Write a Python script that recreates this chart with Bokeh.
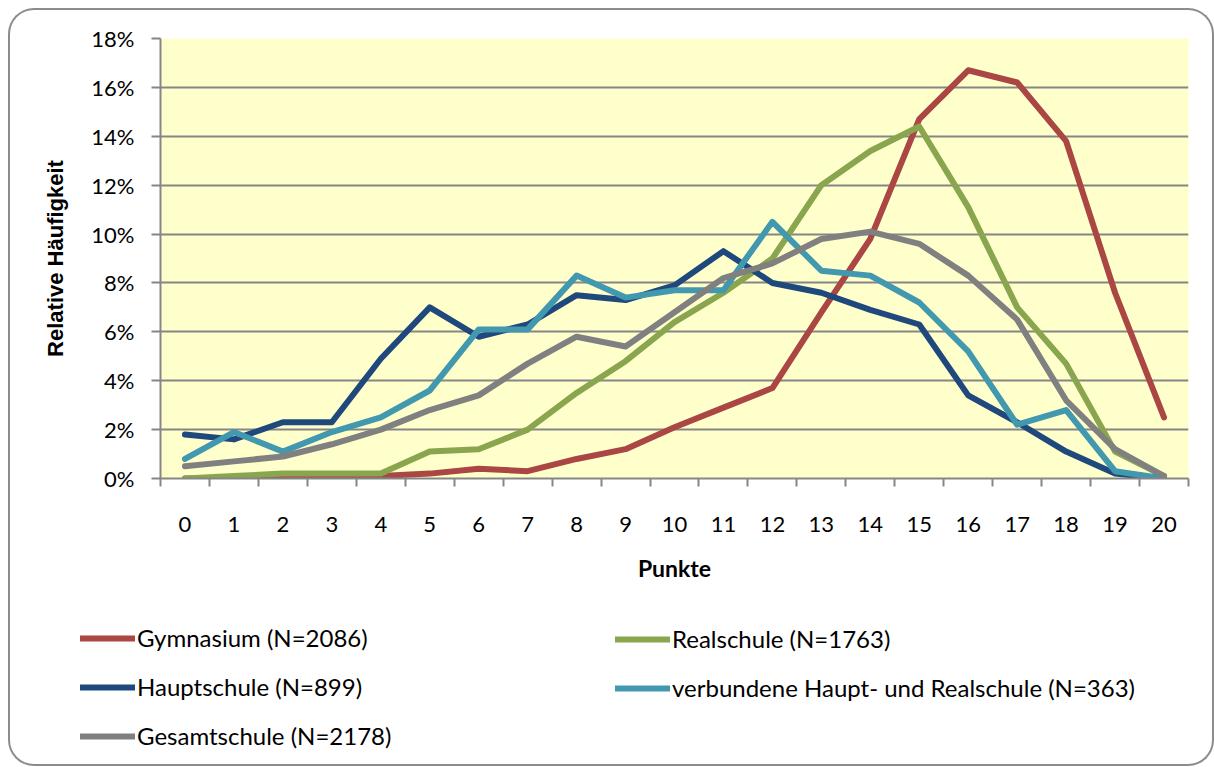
from bokeh.plotting import figure
from bokeh.models import (Range1d, FixedTicker, NumeralTickFormatter, Legend, LegendItem,
                          InlineStyleSheet)
from bokeh.embed import file_html
from bokeh.resources import INLINE

# ---- data (relative frequencies) ----
punkte = list(range(21))
y_ticks = [0.0, 0.02, 0.04, 0.06, 0.08, 0.10, 0.12, 0.14, 0.16, 0.18]

gymnasium = [0.000, 0.000, 0.000, 0.0005, 0.001, 0.002, 0.004, 0.003, 0.008, 0.012, 0.021,
             0.029, 0.037, 0.068, 0.098, 0.147, 0.167, 0.162, 0.138, 0.076, 0.025]
realschule = [0.000, 0.001, 0.002, 0.002, 0.002, 0.011, 0.012, 0.020, 0.035, 0.048, 0.064,
              0.076, 0.090, 0.120, 0.134, 0.144, 0.111, 0.070, 0.047, 0.011, 0.001]
hauptschule = [0.018, 0.016, 0.023, 0.023, 0.049, 0.070, 0.058, 0.063, 0.075, 0.073, 0.079,
               0.093, 0.080, 0.076, 0.069, 0.063, 0.034, 0.023, 0.011, 0.002, 0.000]
verbundene = [0.008, 0.019, 0.011, 0.019, 0.025, 0.036, 0.061, 0.061, 0.083, 0.074, 0.077,
              0.077, 0.105, 0.085, 0.083, 0.072, 0.052, 0.022, 0.028, 0.003, 0.000]
gesamtschule = [0.005, 0.007, 0.009, 0.014, 0.020, 0.028, 0.034, 0.047, 0.058, 0.054, 0.068,
                0.082, 0.088, 0.098, 0.101, 0.096, 0.083, 0.065, 0.032, 0.012, 0.001]

series_names = ["Gymnasium (N=2086)", "Realschule (N=1763)", "Hauptschule (N=899)",
                "verbundene Haupt- und Realschule (N=363)", "Gesamtschule (N=2178)"]
series_values = [gymnasium, realschule, hauptschule, verbundene, gesamtschule]
series_colors = ["#AA4643", "#89A54E", "#1F497D", "#4198AF", "#808080"]

GRID = "#868686"
FONT = "Lato"
LW = 6

# ---------------- main chart ----------------
p = figure(width=1214, height=600, output_backend="svg", toolbar_location=None,
           x_range=Range1d(-0.5, 20.5), y_range=Range1d(0, 0.18),
           min_border_left=160, min_border_right=26, min_border_top=38,
           min_border_bottom=122,
           background_fill_color="#FFFFCC", border_fill_color="white",
           outline_line_color=None)

for vals, col in zip(series_values, series_colors):
    p.line(punkte, vals, line_color=col, line_width=LW,
           line_join="round", line_cap="round")

# x axis: labels at categories, ticks between categories
p.xaxis.ticker = FixedTicker(ticks=punkte, minor_ticks=[x - 0.5 for x in range(22)])
p.xaxis.major_tick_line_color = None
p.xaxis.major_tick_out = 0
p.xaxis.major_tick_in = 0
p.xaxis.minor_tick_in = 0
p.xaxis.minor_tick_out = 8
p.xaxis.minor_tick_line_color = GRID
p.xaxis.minor_tick_line_width = 2
p.xaxis.axis_line_color = GRID
p.xaxis.axis_line_width = 2
p.xaxis.major_label_text_font = FONT
p.xaxis.major_label_text_font_size = "22px"
p.xaxis.major_label_text_color = "black"
p.xaxis.major_label_standoff = 30
p.xaxis.axis_label = "Punkte"
p.xaxis.axis_label_text_font = FONT
p.xaxis.axis_label_text_font_size = "23px"
p.xaxis.axis_label_text_font_style = "bold"
p.xaxis.axis_label_text_color = "black"
p.xaxis.axis_label_standoff = 19

# y axis
p.yaxis.ticker = FixedTicker(ticks=y_ticks, minor_ticks=[])
p.yaxis.formatter = NumeralTickFormatter(format="0%")
p.yaxis.major_tick_in = 0
p.yaxis.major_tick_out = 9
p.yaxis.major_tick_line_color = GRID
p.yaxis.major_tick_line_width = 2
p.yaxis.axis_line_color = GRID
p.yaxis.axis_line_width = 2
p.yaxis.major_label_text_font = FONT
p.yaxis.major_label_text_font_size = "22px"
p.yaxis.major_label_text_color = "black"
p.yaxis.major_label_standoff = 17
p.yaxis.axis_label = "Relative Häufigkeit"
p.yaxis.axis_label_text_font = "Liberation Sans"
p.yaxis.axis_label_text_font_size = "22px"
p.yaxis.axis_label_text_font_style = "bold"
p.yaxis.axis_label_text_color = "black"
p.yaxis.axis_label_standoff = 20

p.xgrid.visible = False
p.ygrid.ticker = FixedTicker(ticks=y_ticks, minor_ticks=[])
p.ygrid.grid_line_color = GRID
p.ygrid.grid_line_width = 2

# ---------------- legend strip (separate root, not frame-aligned) ----------------
q = figure(width=1214, height=167, output_backend="svg", toolbar_location=None,
           x_range=Range1d(100, 101), y_range=Range1d(0, 1),
           x_axis_location=None, y_axis_location=None,
           min_border=0, min_border_left=0, min_border_right=0,
           min_border_top=0, min_border_bottom=0,
           background_fill_color="white", border_fill_color="white",
           outline_line_color=None)
q.grid.visible = False
legend_renderers = []
for vals, col in zip(series_values, series_colors):
    legend_renderers.append(q.line(punkte, vals, line_color=col, line_width=LW,
                                   line_join="round", line_cap="round"))


def make_legend(idx, loc):
    items = [LegendItem(label=series_names[i], renderers=[legend_renderers[i]]) for i in idx]
    return Legend(items=items, location=loc, orientation="vertical",
                  background_fill_alpha=0, border_line_color=None, padding=0, margin=0,
                  spacing=20, glyph_width=55, glyph_height=28, label_height=28,
                  label_standoff=2, label_text_font=FONT, label_text_font_size="24px",
                  label_text_color="black")


q.add_layout(make_legend([0, 2, 4], (80, 17)), "center")
q.add_layout(make_legend([1, 3], (615, 65)), "center")

# rounded outer frame, split over the two parts
top_css = InlineStyleSheet(css="""
:host { position: relative; }
:host::after {
  content: ''; position: absolute;
  left: 8px; top: 8px; width: 1206px; height: 592px;
  border: 2px solid #8C8C8C; border-bottom: none;
  border-radius: 26px 26px 0 0;
  box-sizing: border-box; pointer-events: none; z-index: 10;
}
""")
bottom_css = InlineStyleSheet(css="""
:host { position: relative; }
:host::after {
  content: ''; position: absolute;
  left: 8px; top: 0px; width: 1206px; height: 166px;
  border: 2px solid #8C8C8C; border-top: none;
  border-radius: 0 0 26px 26px;
  box-sizing: border-box; pointer-events: none; z-index: 10;
}
""")
p.stylesheets = [top_css]
q.stylesheets = [bottom_css]

open("out.html", "w").write(file_html([p, q], INLINE))
